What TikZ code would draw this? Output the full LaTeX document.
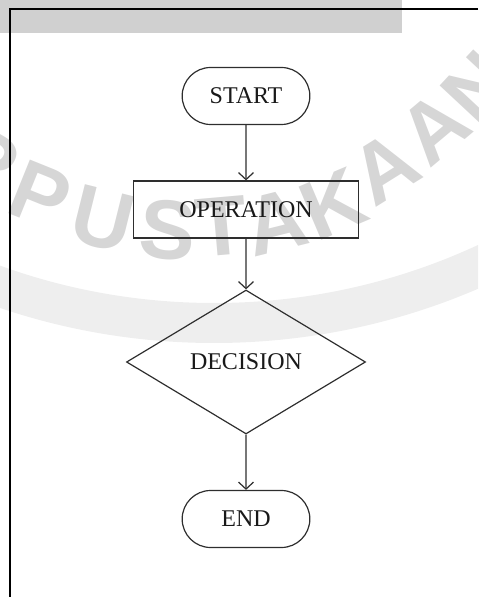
\documentclass[tikz,border=0pt]{standalone}
\usepackage{fontspec}
\setmainfont{Liberation Serif}
\newfontfamily\stampfont{Liberation Sans}
\usetikzlibrary{shapes.geometric,shapes.misc,arrows.meta,positioning}

\definecolor{barfill}{HTML}{D0D0D0}
\definecolor{stampgray}{HTML}{D6D6D6}
\definecolor{ringgray}{HTML}{EEEEEE}
\definecolor{linegray}{HTML}{2E2E2E}

\begin{document}
\begin{tikzpicture}[
    x=0.5pt, y=-0.5pt,
    every node/.style={font=\fontsize{12}{14}\selectfont, text=black!90},
    terminal/.style={draw=linegray, line width=0.6pt, rounded rectangle,
      minimum width=70.5pt, minimum height=28.5pt},
    process/.style={draw=linegray, line width=0.6pt, rectangle,
      minimum width=112.5pt, minimum height=28.5pt},
    decision/.style={draw=linegray, line width=0.6pt, diamond,
      minimum width=119.5pt, minimum height=72pt, inner sep=0pt},
    stamp/.style={font=\stampfont\bfseries\fontsize{42}{42}\selectfont,
      text=stampgray, inner sep=0pt},
    grow=down,
    level 1/.style={level distance=56.75pt},
    level 2/.style={level distance=76.25pt},
    level 3/.style={level distance=78.5pt},
    edge from parent/.style={draw=linegray, line width=0.6pt,
      -{Straight Barb[length=3.5pt,width=7.5pt]}}]
 \useasboundingbox (0,0) rectangle (478,597);
 % library stamp behind the page
 \begin{scope}
   \clip (0,0) rectangle (478,597);
   \draw[ringgray, line width=20pt] (214,-325) circle[radius=648];
   \foreach \ch/\px/\py/\rot [count=\i] in {R/-14/160/-30, P/40/195/-22,
       U/103/219/-14, S/168/230/-5, T/222/226/5, A/276/222/14,
       K/333/204/23, A/385/168/32, A/434/128/40, N/478/88/47}
     \node[stamp, rotate=\rot] (stamp\i) at (\px,\py) {\ch};
 \end{scope}
 % page edge
 \fill[barfill] (0,0) rectangle (402,33);
 \draw[line width=0.8pt] (478,9) -- (10,9) -- (10,597);
 % flow
 \node[terminal] (start) at (246,96) {START}
   child {
     node[process] (operation) {OPERATION}
       child {
         node[decision] (decision) {DECISION}
           child { node[terminal] (finish) {END} }
       }
   };
\end{tikzpicture}
\end{document}
